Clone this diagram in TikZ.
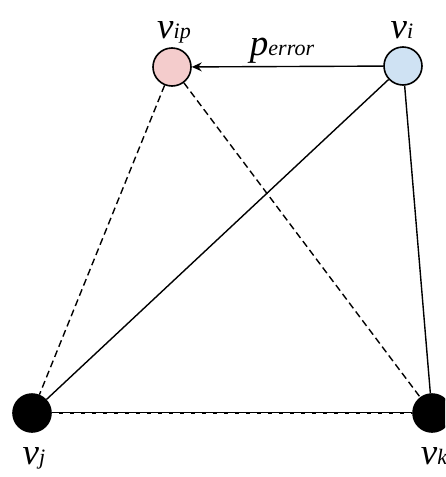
\documentclass[tikz,border=0pt]{standalone}
\usepackage{fontspec}
\setmainfont{Liberation Serif}[ItalicFont={Liberation Serif Italic}]
\usetikzlibrary{arrows.meta}
\definecolor{pinkfill}{HTML}{F4CCCC}
\definecolor{bluefill}{HTML}{CFE2F3}
\newcommand{\lbl}[2]{{\fontsize{37}{37}\selectfont\itshape #1}{\fontsize{22}{22}\selectfont\itshape #2}}
\begin{document}
\begin{tikzpicture}[x=1pt,y=-1pt,
  vert/.style={circle,draw=black,line width=1.6pt,minimum size=38pt,inner sep=0pt},
  edge/.style={line width=1.4pt},
  dedge/.style={line width=1.4pt,dash pattern=on 7pt off 4pt},
  lab/.style={inner sep=0pt,anchor=base}]
\useasboundingbox (0,0) rectangle (445,477);
\clip (0,0) rectangle (445,477);
\node[vert,fill=pinkfill] (vip) at (172,67) {};
\node[vert,fill=bluefill] (vi) at (403,66) {};
\node[vert,fill=black] (vj) at (32,413) {};
\node[vert,fill=black] (vk) at (432,413) {};
\draw[dedge] (vip) -- (vj);
\draw[dedge] (vip) -- (vk);
\draw[edge] (vi) -- (vj);
\draw[edge] (vi) -- (vk);
\draw[edge] (vj) -- (vk);
\draw[dedge,draw=white,line width=0.6pt] (vj.east) -- (vk.west);
\draw[edge,-{Stealth[length=10pt,width=9pt,inset=3.5pt]}] (vi) -- (vip);
\node[lab] (perr) at (282,55) {\lbl{p}{error}};
\node[lab] (lvip) at (174,38) {\lbl{v}{ip}};
\node[lab] (lvi) at (402,38) {\lbl{v}{i}};
\node[lab] (lvj) at (34,464) {\lbl{v}{j}};
\node[lab] (lvk) at (434,464) {\lbl{v}{k}};
\end{tikzpicture}
\end{document}
